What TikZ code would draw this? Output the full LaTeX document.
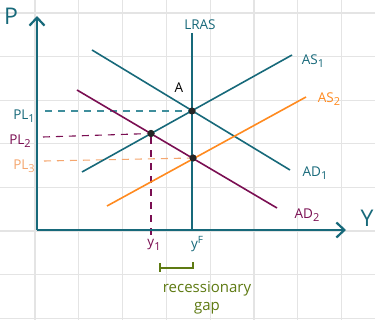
\documentclass[tikz,border=0pt]{standalone}
\usepackage{fontspec}
\setmainfont{Open Sans}
\usetikzlibrary{arrows.meta}
\definecolor{tealc}{HTML}{17697A}
\definecolor{ltealc}{HTML}{3F8E9C}
\definecolor{plum}{HTML}{7A0E52}
\definecolor{orng}{HTML}{FF8A1F}
\definecolor{lorng}{HTML}{F5A66E}
\definecolor{olivec}{HTML}{5E7A12}
\definecolor{gridc}{HTML}{E4E4E4}
\newcommand\mysubs[1]{\raisebox{-0.45ex}{\fontsize{11}{11}\selectfont #1}}
\begin{document}
\begin{tikzpicture}[x=1pt,y=-1pt,
  curve/.style={line width=1.6pt},
  axis/.style={line width=2.2pt, tealc, -{Straight Barb[length=8pt,width=15pt,line width=2.2pt]}},
  guide/.style={line width=1.1pt, dash pattern=on 7pt off 6pt},
  lbl/.style={inner sep=0pt, font=\fontsize{13.5}{15}\selectfont},
  big/.style={inner sep=0pt, font=\fontsize{23}{25}\selectfont, tealc},
  dot/.style={circle, fill=black!85, inner sep=0pt, minimum size=7pt}]
\useasboundingbox (0,0) rectangle (375,320);
\fill[white] (0,0) rectangle (375,320);
% grid
\foreach \gx in {35,78.8,122.6,166.4,210.2,254,297.8,341.6}
  \draw[gridc, line width=1.3pt] (\gx,0) -- (\gx,320);
\foreach \gy in {13,56.6,100.2,143.8,187.4,231,274.6,318.2}
  \draw[gridc, line width=1.3pt] (0,\gy) -- (375,\gy);
% coordinates
\coordinate (O) at (37,230);
\coordinate (ytop) at (37,16);
\coordinate (xend) at (346,230);
\coordinate (lrT) at (192,33);
\coordinate (lrB) at (192,230);
\coordinate (ad1a) at (92,50);
\coordinate (ad1b) at (290,170);
\coordinate (as1a) at (82,172);
\coordinate (as1b) at (292,55);
\coordinate (as2a) at (107,206);
\coordinate (as2b) at (306,97);
\coordinate (ad2a) at (77,90);
\coordinate (ad2b) at (277,208);
\coordinate (pl1s) at (45,111);
\coordinate (pl2s) at (43,137);
\coordinate (pl3s) at (44,161);
\coordinate (y1b) at (151,236);
\coordinate (g1) at (160,268);
\coordinate (g2) at (193,268);
\coordinate (g1t) at (160,263);
\coordinate (g1b) at (160,272);
\coordinate (g2t) at (193,262);
% guides
\node[dot] (A) at (192,111) {};
\node[dot] (B) at (151,133.5) {};
\node[dot] (C) at (193,158) {};
\draw[guide, ltealc] (pl1s) -- (A);
\draw[guide, plum] (pl2s) -- (B);
\draw[guide, lorng] (pl3s) -- (C);
\draw[guide, plum] (B) -- (y1b);
% curves
\draw[curve, tealc] (lrT) -- (lrB);
\draw[curve, tealc] (ad1a) -- (ad1b);
\draw[curve, tealc] (as1a) -- (as1b);
\draw[curve, orng] (as2a) -- (as2b);
\draw[curve, plum] (ad2a) -- (ad2b);
% axes
\draw[axis] (O) -- (ytop);
\draw[axis] (O) -- (xend);
% dots on top
\node[dot] at (A) {};
\node[dot] at (B) {};
\node[dot] at (C) {};
% labels
\node[big] (P) at (11,16) {P};
\node[big] (Y) at (367,218) {Y};
\node[lbl, tealc] (lras) at (200,25) {LRAS};
\node[lbl, black] (Alab) at (179,88) {A};
\node[lbl, tealc] (as1) at (313,61) {AS\mysubs{1}};
\node[lbl, orng] (as2) at (329,99) {AS\mysubs{2}};
\node[lbl, tealc] (ad1) at (315,173) {AD\mysubs{1}};
\node[lbl, plum] (ad2) at (307,215) {AD\mysubs{2}};
\node[lbl, tealc] (pl1) at (24,116) {PL\mysubs{1}};
\node[lbl, plum] (pl2) at (20,141) {PL\mysubs{2}};
\node[lbl, lorng] (pl3) at (24,166) {PL\mysubs{3}};
\node[lbl, plum] (y1) at (154,245) {y\mysubs{1}};
\node[lbl, tealc] (yF) at (197,244) {y\raisebox{0.6ex}{\fontsize{10}{10}\selectfont F}};
% gap bracket
\draw[olivec, line width=1.3pt] (g1t) -- (g1b);
\draw[olivec, line width=1.3pt] (g1) -- (g2) -- (g2t);
\node[lbl, olivec, align=center, font=\fontsize{15}{18}\selectfont] (gap) at (207,298) {recessionary\\gap};
\end{tikzpicture}
\end{document}
